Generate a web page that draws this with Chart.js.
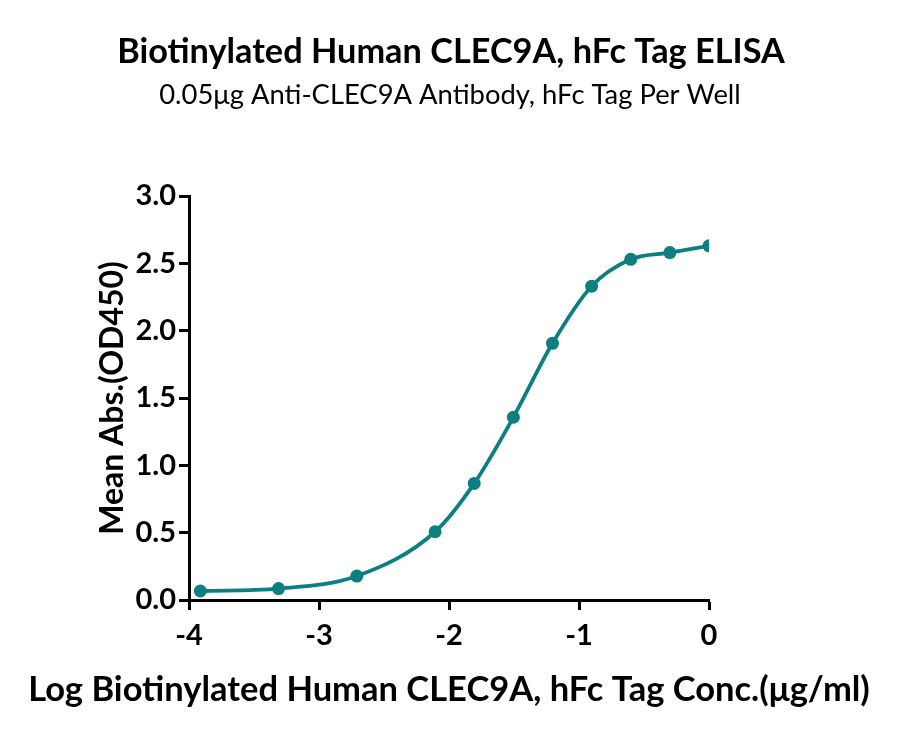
<!DOCTYPE html>
<html><head><meta charset="utf-8">
<script src="https://cdn.jsdelivr.net/npm/chart.js@4.4.1/dist/chart.umd.min.js"></script>
<style>html,body{margin:0;padding:0;background:#fff}#wrap{width:900px;height:735px}</style>
</head><body><div id="wrap"><canvas id="c" width="900" height="735"></canvas></div>
<script>
const titleText = "Biotinylated Human CLEC9A, hFc Tag ELISA";
const subtitleText = "0.05μg Anti-CLEC9A Antibody, hFc Tag Per Well";
const xTitle = "Log Biotinylated Human CLEC9A, hFc Tag Conc.(μg/ml)";
const yTitle = "Mean Abs.(OD450)";
const logConc = [-3.913, -3.311, -2.709, -2.107, -1.806, -1.505, -1.204, -0.903, -0.602, -0.301, 0];
const meanAbs = [0.067, 0.085, 0.178, 0.507, 0.866, 1.357, 1.906, 2.33, 2.53, 2.58, 2.63];
const xTicks = [-4, -3, -2, -1, 0];
const yTicks = [0, 0.5, 1.0, 1.5, 2.0, 2.5, 3.0];

const FONT = "Lato, 'Noto Sans', sans-serif";
const teal = '#0e7f80';
const pts = logConc.map((x, i) => ({x: x, y: meanAbs[i]}));

// Titles drawn at full canvas width (Chart.js would squeeze them to the padded box width)
const textPlugin = {
  id: 'textPlugin',
  afterDraw(chart) {
    const ctx = chart.ctx, a = chart.chartArea, W = chart.width;
    ctx.save();
    ctx.fillStyle = '#000';
    ctx.textAlign = 'center';
    ctx.textBaseline = 'middle';
    ctx.font = "bold 34.3px " + FONT;
    ctx.fillText(titleText, W / 2 + 1, 52);
    ctx.font = "27.4px " + FONT;
    ctx.fillText(subtitleText, W / 2, 95);
    ctx.font = "bold 34.5px " + FONT;
    ctx.fillText(xTitle, (a.left + a.right) / 2, a.bottom + 90);
    ctx.restore();
  }
};

new Chart(document.getElementById('c'), {
  type: 'line',
  data: { datasets: [{
    data: pts,
    borderColor: teal, backgroundColor: teal,
    borderWidth: 3.8, pointRadius: 6.5, pointHoverRadius: 6.5,
    pointBackgroundColor: teal, pointBorderWidth: 0,
    cubicInterpolationMode: 'monotone', fill: false
  }]},
  plugins: [textPlugin],
  options: {
    responsive: false, animation: false, devicePixelRatio: 1,
    layout: { padding: { left: 92, right: 191, top: 196, bottom: 20 } },
    plugins: {
      legend: { display: false }, tooltip: { enabled: false },
      title: { display: false }, subtitle: { display: false }
    },
    scales: {
      x: { type: 'linear', min: -4, max: 0,
        afterBuildTicks: s => { s.ticks = xTicks.map(v => ({value: v})); },
        afterFit: s => { s.height = 115; },
        ticks: { color: '#000', font: { family: FONT, size: 29, weight: 'bold' }, padding: 8,
          callback: v => String(v), maxRotation: 0 },
        grid: { drawOnChartArea: false, drawTicks: true, tickLength: 10, tickWidth: 3, tickColor: '#000' },
        border: { display: true, width: 3, color: '#000' },
        title: { display: false }
      },
      y: { type: 'linear', min: 0, max: 3,
        afterBuildTicks: s => { s.ticks = yTicks.map(v => ({value: v})); },
        afterFit: s => { s.width = 97; },
        ticks: { color: '#000', font: { family: FONT, size: 29, weight: 'bold' }, padding: 3,
          callback: v => Number(v).toFixed(1) },
        grid: { drawOnChartArea: false, drawTicks: true, tickLength: 10, tickWidth: 3, tickColor: '#000' },
        border: { display: true, width: 3, color: '#000' },
        title: { display: true, text: yTitle, color: '#000',
          font: { family: FONT, size: 32, weight: 'bold' }, padding: { top: 1, bottom: 4 } }
      }
    }
  }
});
</script></body></html>
